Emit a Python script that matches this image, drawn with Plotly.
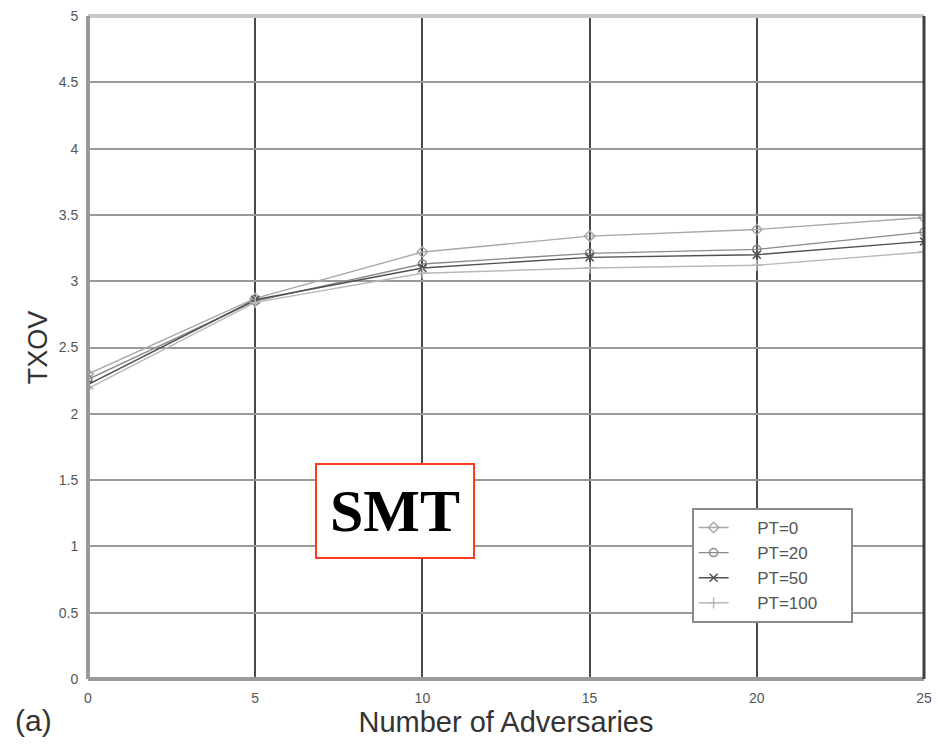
import plotly.graph_objects as go

adversaries = [0, 5, 10, 15, 20, 25]
pt0 = [2.30, 2.87, 3.22, 3.34, 3.39, 3.48]
pt20 = [2.26, 2.85, 3.13, 3.21, 3.24, 3.37]
pt50 = [2.22, 2.86, 3.10, 3.18, 3.20, 3.30]
pt100 = [2.19, 2.84, 3.06, 3.10, 3.12, 3.22]

series_names = ["PT=0", "PT=20", "PT=50", "PT=100"]
series_values = [pt0, pt20, pt50, pt100]
series_colors = ["#a8a8a8", "#8a8a8a", "#505050", "#b8b8b8"]
series_symbols = ["diamond-open", "circle-open", "x-thin-open", "cross-thin-open"]

x_ticks = [0, 5, 10, 15, 20, 25]
y_ticks = [0, 0.5, 1, 1.5, 2, 2.5, 3, 3.5, 4, 4.5, 5]
y_tick_labels = ["0", "0.5", "1", "1.5", "2", "2.5", "3", "3.5", "4", "4.5", "5"]

NB = "\u00a0"
fig = go.Figure()
for name, vals, col, sym in zip(series_names, series_values, series_colors, series_symbols):
    label = NB * 5 + name + NB * (12 - len(name))
    fig.add_trace(go.Scatter(
        x=adversaries, y=vals, name=label, mode="lines+markers",
        line=dict(color=col, width=1.4),
        marker=dict(symbol=sym, size=8, color=col, line=dict(color=col, width=1.5)),
    ))

fig.update_layout(
    width=940, height=744,
    margin=dict(l=88, r=8, t=16, b=65),
    plot_bgcolor="white", paper_bgcolor="white",
    font=dict(family="Liberation Sans, Arial, sans-serif", color="#333"),
    showlegend=True,
    legend=dict(
        x=0.722, y=0.258, xanchor="left", yanchor="top",
        bgcolor="white", bordercolor="#8a8a8a", borderwidth=2,
        font=dict(size=17, color="#555"),
        tracegroupgap=0,
    ),
    xaxis=dict(
        range=[0, 25], tickvals=x_ticks, ticktext=[str(v) for v in x_ticks],
        showgrid=True, gridcolor="#4a4a4a", gridwidth=2,
        zeroline=False, showline=False, ticks="outside", ticklen=6, tickcolor="white",
        tickfont=dict(size=14, color="#555"),
        title=dict(text="Number of Adversaries", font=dict(size=29, color="#333"), standoff=6),
    ),
    yaxis=dict(
        range=[0, 5], tickvals=y_ticks, ticktext=y_tick_labels,
        showgrid=True, gridcolor="#9a9a9a", gridwidth=2,
        zeroline=False, showline=False, ticks="outside", ticklen=6, tickcolor="white",
        tickfont=dict(size=14, color="#555"),
        title=dict(text="TXOV", font=dict(size=27, color="#333"), standoff=3),
    ),
)

# frame lines
fig.add_shape(type="line", xref="paper", yref="paper", x0=0, x1=1, y0=1, y1=1,
              line=dict(color="#c8c8c8", width=4))
fig.add_shape(type="line", xref="paper", yref="paper", x0=0, x1=0, y0=0, y1=1,
              line=dict(color="#9a9a9a", width=4))
fig.add_shape(type="line", xref="paper", yref="paper", x0=0, x1=1, y0=0, y1=0,
              line=dict(color="#9a9a9a", width=4))
fig.add_shape(type="line", xref="paper", yref="paper", x0=1, x1=1, y0=0, y1=1,
              line=dict(color="#404040", width=3))

fig.add_annotation(
    x=9.17, y=1.27, xref="x", yref="y", text="<b>SMT</b>", showarrow=False,
    font=dict(family="Liberation Serif, Times New Roman, serif", size=60, color="black"),
    bgcolor="white", bordercolor="#ff3a1a", borderwidth=2,
    width=154, height=90,
)
fig.add_annotation(
    xref="paper", yref="paper",
    x=(33 - 88) / 844, y=-(720 - 679) / 663,
    xanchor="center", yanchor="middle",
    text="(a)", showarrow=False,
    font=dict(size=30, color="#333"),
)

fig.write_html("out.html")
